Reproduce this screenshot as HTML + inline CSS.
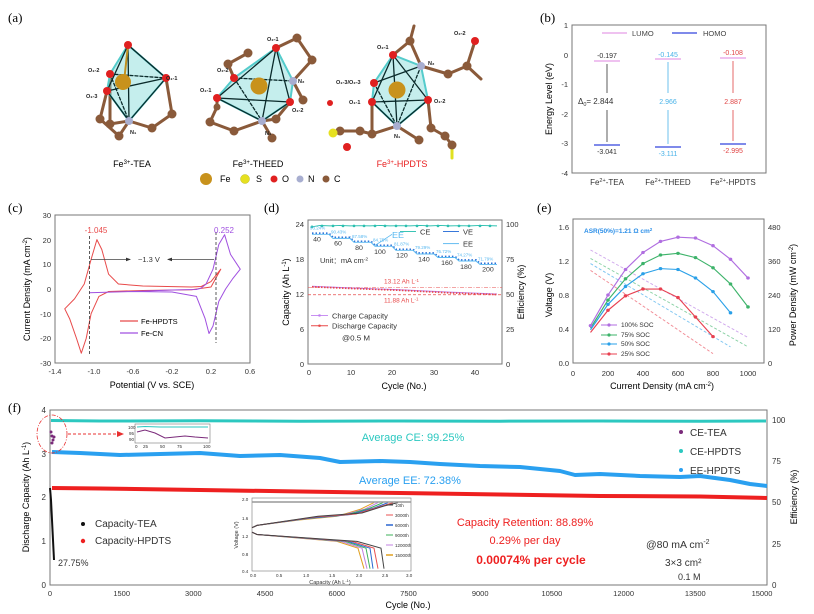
<!DOCTYPE html>
<html><head><meta charset="utf-8"><style>
html,body{margin:0;padding:0;background:#fff}
svg{display:block;font-family:"Liberation Sans",sans-serif}
</style></head><body>
<svg width="814" height="614" viewBox="0 0 814 614" xmlns="http://www.w3.org/2000/svg">
<!-- ===== (a) ===== -->
<text x="8" y="22" font-size="13" font-family="Liberation Serif">(a)</text>
<g stroke-linecap="round">
<g stroke="#8a5a3a" stroke-width="3">
<line x1="107" y1="91" x2="100" y2="119"/><line x1="100" y1="119" x2="119" y2="136"/><line x1="119" y1="136" x2="129" y2="121"/><line x1="129" y1="121" x2="152" y2="128"/><line x1="152" y1="128" x2="172" y2="114"/><line x1="172" y1="114" x2="166" y2="78"/><line x1="129" y1="121" x2="110" y2="124"/><line x1="110" y1="124" x2="110" y2="74"/>
</g>
<polygon points="128,45 110,74 107,91 129,121 166,78" fill="#7fd9d6" fill-opacity="0.45" stroke="#5cc" stroke-width="2"/>
<g stroke="#0a2a2a" stroke-width="1.3" fill="none">
<polyline points="128,45 107,91 129,121 166,78 128,45 129,121"/><line x1="107" y1="91" x2="166" y2="78"/><line x1="110" y1="74" x2="166" y2="78" stroke-dasharray="3,2"/><line x1="110" y1="74" x2="129" y2="121" stroke-dasharray="3,2"/>
</g>
<line x1="124" y1="82" x2="128" y2="45" stroke="#c09020" stroke-width="2"/>
<circle cx="123" cy="82" r="8" fill="#c8921c"/>
<g fill="#8a5a3a"><circle cx="100" cy="119" r="4.5"/><circle cx="119" cy="136" r="4.5"/><circle cx="152" cy="128" r="4.5"/><circle cx="172" cy="114" r="4.5"/><circle cx="110" cy="124" r="4.5"/></g>
<g fill="#e02020"><circle cx="128" cy="45" r="4"/><circle cx="110" cy="74" r="4"/><circle cx="107" cy="91" r="4"/><circle cx="166" cy="78" r="4"/></g>
<circle cx="129" cy="121" r="4" fill="#a8aed0"/>
<g stroke="#8a5a3a" stroke-width="3">
<line x1="276" y1="48" x2="297" y2="38"/><line x1="297" y1="38" x2="312" y2="60"/><line x1="312" y1="60" x2="293" y2="81"/><line x1="234" y1="78" x2="228" y2="64"/><line x1="228" y1="64" x2="248" y2="53"/><line x1="293" y1="81" x2="303" y2="100"/><line x1="217" y1="98" x2="217" y2="107"/><line x1="217" y1="107" x2="210" y2="122"/><line x1="210" y1="122" x2="234" y2="131"/><line x1="234" y1="131" x2="262" y2="121"/><line x1="262" y1="121" x2="272" y2="138"/><line x1="262" y1="121" x2="276" y2="119"/><line x1="276" y1="119" x2="290" y2="102"/>
</g>
<polygon points="276,48 234,78 217,98 262,121 290,102 293,81" fill="#7fd9d6" fill-opacity="0.45" stroke="#5cc" stroke-width="2"/>
<g stroke="#0a2a2a" stroke-width="1.3" fill="none">
<polyline points="276,48 217,98 262,121 290,102 276,48 262,121"/><line x1="217" y1="98" x2="290" y2="102"/><line x1="234" y1="78" x2="293" y2="81" stroke-dasharray="3,2"/><line x1="234" y1="78" x2="262" y2="121" stroke-dasharray="3,2"/>
</g>
<circle cx="259" cy="86" r="8.5" fill="#c8921c"/>
<g fill="#8a5a3a"><circle cx="248" cy="53" r="4.5"/><circle cx="228" cy="64" r="4.5"/><circle cx="297" cy="38" r="4.5"/><circle cx="312" cy="60" r="4.5"/><circle cx="303" cy="100" r="4.5"/><circle cx="210" cy="122" r="4.5"/><circle cx="234" cy="131" r="4.5"/><circle cx="272" cy="138" r="4.5"/><circle cx="276" cy="119" r="4.5"/><circle cx="217" cy="107" r="3.5"/></g>
<g fill="#e02020"><circle cx="276" cy="48" r="4"/><circle cx="234" cy="78" r="4"/><circle cx="217" cy="98" r="4"/><circle cx="290" cy="102" r="4"/></g>
<g fill="#a8aed0"><circle cx="262" cy="121" r="4"/><circle cx="293" cy="81" r="4"/></g>
<g stroke="#8a5a3a" stroke-width="3">
<line x1="393" y1="55" x2="410" y2="41"/><line x1="410" y1="41" x2="414" y2="26"/><line x1="421" y1="66" x2="448" y2="74"/><line x1="448" y1="74" x2="467" y2="66"/><line x1="467" y1="66" x2="481" y2="79"/><line x1="467" y1="66" x2="475" y2="41"/><line x1="372" y1="102" x2="372" y2="134"/><line x1="372" y1="134" x2="397" y2="126"/><line x1="372" y1="134" x2="360" y2="131"/><line x1="360" y1="131" x2="340" y2="131"/><line x1="397" y1="126" x2="419" y2="140"/><line x1="428" y1="100" x2="431" y2="128"/><line x1="431" y1="128" x2="445" y2="136"/><line x1="445" y1="136" x2="452" y2="145"/><line x1="421" y1="66" x2="410" y2="41"/>
</g>
<line x1="452" y1="145" x2="452" y2="158" stroke="#e0e020" stroke-width="3"/>
<polygon points="393,55 374,83 372,102 397,126 428,100 421,66" fill="#7fd9d6" fill-opacity="0.45" stroke="#5cc" stroke-width="2"/>
<g stroke="#0a2a2a" stroke-width="1.3" fill="none">
<polyline points="393,55 372,102 397,126 428,100 393,55 397,126"/><line x1="372" y1="102" x2="428" y2="100"/><line x1="374" y1="83" x2="421" y2="66"/><line x1="374" y1="83" x2="397" y2="126" stroke-dasharray="3,2"/><line x1="421" y1="66" x2="397" y2="126" stroke-dasharray="3,2"/>
</g>
<circle cx="397" cy="90" r="8.5" fill="#c8921c"/>
<g fill="#8a5a3a"><circle cx="410" cy="41" r="4.5"/><circle cx="448" cy="74" r="4.5"/><circle cx="467" cy="66" r="4.5"/><circle cx="372" cy="134" r="4.5"/><circle cx="360" cy="131" r="4.5"/><circle cx="340" cy="131" r="4.5"/><circle cx="419" cy="140" r="4.5"/><circle cx="431" cy="128" r="4.5"/><circle cx="445" cy="136" r="4.5"/><circle cx="452" cy="145" r="4.5"/></g>
<g fill="#e02020"><circle cx="393" cy="55" r="4"/><circle cx="374" cy="83" r="4"/><circle cx="372" cy="102" r="4"/><circle cx="428" cy="100" r="4"/><circle cx="475" cy="41" r="4"/><circle cx="347" cy="147" r="4"/><circle cx="330" cy="103" r="3"/></g>
<g fill="#a8aed0"><circle cx="397" cy="126" r="4"/><circle cx="421" cy="66" r="4"/></g>
<circle cx="333" cy="133" r="4.5" fill="#e6e020"/>
</g>
<g font-size="5.5" font-weight="bold" fill="#222">
<text x="88" y="72">O₁-2</text><text x="166" y="80">O₁-1</text><text x="86" y="98">O₁-3</text><text x="130" y="134">N₁</text>
<text x="267" y="41">O₂-1</text><text x="217" y="72">O₂-2</text><text x="200" y="92">O₁-1</text><text x="298" y="83">N₂</text><text x="292" y="112">O₁-2</text><text x="265" y="135">N₁</text>
<text x="377" y="49">O₂-1</text><text x="454" y="35">O₂-2</text><text x="428" y="65">N₂</text><text x="336" y="84">O₁-3/O₂-3</text><text x="349" y="104">O₁-1</text><text x="434" y="103">O₁-2</text><text x="394" y="138">N₁</text>
</g>
<g font-size="9">
<text x="132" y="167" text-anchor="middle">Fe<tspan font-size="6" dy="-3">3+</tspan><tspan dy="3">-TEA</tspan></text>
<text x="258" y="167" text-anchor="middle">Fe<tspan font-size="6" dy="-3">3+</tspan><tspan dy="3">-THEED</tspan></text>
<text x="402" y="167" text-anchor="middle" fill="#e82020">Fe<tspan font-size="6" dy="-3">3+</tspan><tspan dy="3">-HPDTS</tspan></text>
</g>
<g font-size="9">
<circle cx="206" cy="179" r="6" fill="#c8921c"/><text x="220" y="182">Fe</text>
<circle cx="245" cy="179" r="4.5" fill="#e6e020" stroke="#bb2" stroke-width="0.5"/><text x="256" y="182">S</text>
<circle cx="274" cy="179" r="3.5" fill="#e02020"/><text x="282" y="182">O</text>
<circle cx="300" cy="179" r="3.5" fill="#a8aed0"/><text x="308" y="182">N</text>
<circle cx="326" cy="179" r="3.5" fill="#8a5a3a"/><text x="334" y="182">C</text>
</g>

<!-- ===== (b) ===== -->
<text x="540" y="22" font-size="13" font-family="Liberation Serif">(b)</text>
<rect x="572" y="25" width="194" height="148" fill="none" stroke="#777" stroke-width="1"/>
<g font-size="7.5" text-anchor="end" fill="#333">
<text x="568" y="28">1</text><text x="568" y="58">0</text><text x="568" y="87">-1</text><text x="568" y="117">-2</text><text x="568" y="146">-3</text><text x="568" y="176">-4</text>
</g>
<text transform="translate(552,99) rotate(-90)" font-size="9" text-anchor="middle">Energy Level (eV)</text>
<line x1="602" y1="33" x2="627" y2="33" stroke="#e59ee8" stroke-width="1.2"/><text x="632" y="36" font-size="7.5" fill="#444">LUMO</text>
<line x1="672" y1="33" x2="697" y2="33" stroke="#3344dd" stroke-width="1.2"/><text x="703" y="36" font-size="7.5" fill="#444">HOMO</text>
<g stroke-width="1.2">
<line x1="594" y1="61" x2="620" y2="61" stroke="#e59ee8"/><line x1="594" y1="145" x2="620" y2="145" stroke="#3344dd"/>
<line x1="607" y1="64" x2="607" y2="93" stroke="#333" stroke-width="0.8"/><line x1="607" y1="110" x2="607" y2="142" stroke="#333" stroke-width="0.8"/>
<line x1="655" y1="59" x2="681" y2="59" stroke="#e59ee8"/><line x1="655" y1="147" x2="681" y2="147" stroke="#3344dd"/>
<line x1="668" y1="62" x2="668" y2="93" stroke="#4ab3e8" stroke-width="0.8"/><line x1="668" y1="110" x2="668" y2="144" stroke="#4ab3e8" stroke-width="0.8"/>
<line x1="720" y1="58" x2="746" y2="58" stroke="#e59ee8"/><line x1="720" y1="144" x2="746" y2="144" stroke="#3344dd"/>
<line x1="733" y1="61" x2="733" y2="93" stroke="#e04545" stroke-width="0.8"/><line x1="733" y1="110" x2="733" y2="141" stroke="#e04545" stroke-width="0.8"/>
</g>
<g font-size="7" text-anchor="middle">
<text x="607" y="58" fill="#333">-0.197</text><text x="607" y="154" fill="#333">-3.041</text>
<text x="668" y="57" fill="#4ab3e8">-0.145</text><text x="668" y="156" fill="#4ab3e8">-3.111</text>
<text x="733" y="55" fill="#e04545">-0.108</text><text x="733" y="153" fill="#e04545">-2.995</text>
<text x="668" y="104" fill="#4ab3e8">2.966</text><text x="733" y="104" fill="#e04545">2.887</text>
</g>
<text x="578" y="104" font-size="8" fill="#333">Δ<tspan font-size="5.5" dy="2">0</tspan><tspan dy="-2">= 2.844</tspan></text>
<g font-size="8" text-anchor="middle" fill="#333">
<text x="607" y="185">Fe<tspan font-size="5.5" dy="-3">2+</tspan><tspan dy="3">-TEA</tspan></text>
<text x="668" y="185">Fe<tspan font-size="5.5" dy="-3">2+</tspan><tspan dy="3">-THEED</tspan></text>
<text x="733" y="185">Fe<tspan font-size="5.5" dy="-3">2+</tspan><tspan dy="3">-HPDTS</tspan></text>
</g>

<!-- ===== (c) ===== -->
<text x="8" y="212" font-size="13" font-family="Liberation Serif">(c)</text>
<rect x="55" y="215" width="195" height="148" fill="none" stroke="#777"/>
<g font-size="7.5" text-anchor="end" fill="#333">
<text x="51" y="218">30</text><text x="51" y="243">20</text><text x="51" y="267">10</text><text x="51" y="292">0</text><text x="51" y="317">-10</text><text x="51" y="341">-20</text><text x="51" y="366">-30</text>
</g>
<g font-size="7.5" text-anchor="middle" fill="#333">
<text x="55" y="374">-1.4</text><text x="94" y="374">-1.0</text><text x="133" y="374">-0.6</text><text x="172" y="374">-0.2</text><text x="211" y="374">0.2</text><text x="250" y="374">0.6</text>
</g>
<text x="152" y="388" font-size="9" text-anchor="middle">Potential (V vs. SCE)</text>
<text transform="translate(30,289) rotate(-90)" font-size="9" text-anchor="middle">Current  Density (mA cm<tspan font-size="6" dy="-3">-2</tspan><tspan dy="3">)</tspan></text>
<path d="M64.75,308.8 L74.5,298.9 L84.25,284 L91.1,259.4 L96.9,239.6 L101.8,249.5 L108.6,274.2 L118.4,284 L142.8,286 L191.5,287 L201.25,286.5 L211,281.6 L220.75,269.2 L211,287 L191.5,289.7 L142.8,290.5 L108.6,291.5 L98.9,296.4 L91.1,313.7 L86.2,338.4 L81.3,353.2 L76.5,338.4 L69.6,318.6 Z" fill="none" stroke="#e84a4a" stroke-width="1" stroke-linejoin="round"/>
<path d="M89.1,292.7 L133,291.5 L172,290 L196.4,289.5 L201.25,288 L206.1,284 L213,269.2 L218.8,244.5 L224.6,234.7 L230.5,254.4 L240.25,269.2 L232.4,279.1 L225.6,289 L218.8,301.4 L213,326 L209,333.5 L205.1,318.6 L196.4,296.4 L172,292 L133,291.5 L89.1,292.7" fill="none" stroke="#a050e0" stroke-width="1" stroke-linejoin="round"/>
<line x1="89.6" y1="236" x2="89.6" y2="355" stroke="#333" stroke-width="0.8" stroke-dasharray="3,2"/>
<line x1="216" y1="232" x2="216" y2="343" stroke="#333" stroke-width="0.8" stroke-dasharray="3,2"/>
<text x="96" y="233" font-size="8" fill="#e84a4a" text-anchor="middle">-1.045</text>
<text x="224" y="233" font-size="8" fill="#a050e0" text-anchor="middle">0.252</text>
<g stroke="#444" stroke-width="0.7"><line x1="91" y1="259.4" x2="130" y2="259.4"/><line x1="168" y1="259.4" x2="214" y2="259.4"/></g>
<polygon points="131,259.4 126,257.6 126,261.2" fill="#333"/><polygon points="167,259.4 172,257.6 172,261.2" fill="#333"/>
<text x="149" y="262" font-size="7.5" text-anchor="middle" fill="#333">~1.3 V</text>
<line x1="120" y1="321" x2="138" y2="321" stroke="#e84a4a" stroke-width="1.2"/><text x="141" y="324" font-size="7.5">Fe-HPDTS</text>
<line x1="120" y1="333" x2="138" y2="333" stroke="#a050e0" stroke-width="1.2"/><text x="141" y="336" font-size="7.5">Fe-CN</text>

<!-- ===== (d) ===== -->
<text x="264" y="212" font-size="13" font-family="Liberation Serif">(d)</text>
<rect x="308" y="220" width="194" height="144" fill="none" stroke="#777"/>
<g font-size="7.5" text-anchor="end" fill="#333">
<text x="304" y="227">24</text><text x="304" y="262">18</text><text x="304" y="297">12</text><text x="304" y="332">6</text><text x="304" y="367">0</text>
</g>
<g font-size="7.5" fill="#333">
<text x="506" y="227">100</text><text x="506" y="262">75</text><text x="506" y="297">50</text><text x="506" y="332">25</text><text x="506" y="367">0</text>
</g>
<g font-size="7.5" text-anchor="middle" fill="#333">
<text x="309" y="375">0</text><text x="351" y="375">10</text><text x="392" y="375">20</text><text x="434" y="375">30</text><text x="475" y="375">40</text>
</g>
<text x="404" y="389" font-size="9" text-anchor="middle">Cycle (No.)</text>
<text transform="translate(289,292) rotate(-90)" font-size="9" text-anchor="middle">Capacity (Ah L<tspan font-size="6" dy="-3">-1</tspan><tspan dy="3">)</tspan></text>
<text transform="translate(524,292) rotate(-90)" font-size="9" text-anchor="middle">Efficiency (%)</text>
<g transform="translate(0,14.1) scale(1,0.933)">
<polyline points="312,228 320,226.5 330,227 340,226.5 350,227 360,226.8 370,227 380,226.5 390,227 400,226.8 410,227 420,226.5 430,227 440,226.5 450,227 460,226.8 470,227 480,226.5 497,227" fill="none" stroke="#2cc0b0" stroke-width="1"/>
<g fill="#2cc0b0"><circle cx="312" cy="228" r="1.4"/><circle cx="322" cy="227" r="1.4"/><circle cx="333" cy="227" r="1.4"/><circle cx="343" cy="227" r="1.4"/><circle cx="354" cy="227" r="1.4"/><circle cx="364" cy="227" r="1.4"/><circle cx="375" cy="227" r="1.4"/><circle cx="385" cy="227" r="1.4"/><circle cx="396" cy="227" r="1.4"/><circle cx="406" cy="227" r="1.4"/><circle cx="417" cy="227" r="1.4"/><circle cx="427" cy="227" r="1.4"/><circle cx="438" cy="227" r="1.4"/><circle cx="448" cy="227" r="1.4"/><circle cx="459" cy="227" r="1.4"/><circle cx="469" cy="227" r="1.4"/><circle cx="480" cy="227" r="1.4"/><circle cx="490" cy="227" r="1.4"/></g>
<polyline points="312,235 329,235 333,239.4 350,239.4 354,243.6 371,243.6 375,247.9 392,247.9 396,252.2 413,252.2 417,256.1 434,256.1 438,259.9 455,259.9 459,263.6 476,263.6 480,267.3 497,267.3" fill="none" stroke="#2a6fd8" stroke-width="2" stroke-dasharray="1.5,2"/>
<polyline points="312,236 329,236 333,240.4 350,240.4 354,244.6 371,244.6 375,248.9 392,248.9 396,253.2 413,253.2 417,257.1 434,257.1 438,260.9 455,260.9 459,264.6 476,264.6 480,268.3 497,268.3" fill="none" stroke="#58b8f0" stroke-width="1"/>
<line x1="375" y1="248" x2="392" y2="236" stroke="#58b8f0" stroke-width="0.8"/>
<text x="392" y="240" font-size="9" fill="#58b8f0">EE</text>
<g font-size="4.5" fill="#58b8f0"><text x="310" y="231">93.24%</text><text x="331" y="235">90.43%</text><text x="352" y="240">87.58%</text><text x="373" y="244">84.75%</text><text x="394" y="248">81.87%</text><text x="415" y="252">79.29%</text><text x="436" y="256">76.72%</text><text x="457" y="260">74.27%</text><text x="478" y="264">71.79%</text></g>
<g font-size="7" fill="#333" text-anchor="middle"><text x="317" y="244">40</text><text x="338" y="248">60</text><text x="359" y="253">80</text><text x="380" y="257">100</text><text x="402" y="261">120</text><text x="424" y="265">140</text><text x="447" y="269">160</text><text x="466" y="273">180</text><text x="488" y="276">200</text></g>
<g font-size="7.5" fill="#333"><text x="420" y="236">CE</text><text x="463" y="236">VE</text><text x="463" y="249">EE</text></g>
<line x1="400" y1="233" x2="416" y2="233" stroke="#2cc0b0"/><line x1="443" y1="233" x2="459" y2="233" stroke="#2a6fd8"/><line x1="443" y1="246" x2="459" y2="246" stroke="#58b8f0"/>
<text x="320" y="267" font-size="7.5" fill="#333">Unit：mA cm<tspan font-size="5" dy="-3">-2</tspan></text>
<line x1="308" y1="293" x2="502" y2="293" stroke="#e84a4a" stroke-width="0.6" stroke-dasharray="4,1.5,1,1.5"/>
<line x1="308" y1="300.75" x2="502" y2="300.75" stroke="#e84a4a" stroke-width="0.8" stroke-dasharray="3,2"/>
<text x="384" y="289" font-size="6.5" fill="#e84a4a">13.12 Ah L<tspan font-size="4.5" dy="-2">-1</tspan></text>
<text x="384" y="309" font-size="6.5" fill="#e84a4a">11.88 Ah L<tspan font-size="4.5" dy="-2">-1</tspan></text>
<polyline points="312,291.8 350,293.5 400,295.5 450,298 497,300" fill="none" stroke="#c080f0" stroke-width="1.2"/>
<polyline points="312,292.3 350,294 400,296 450,298.8 497,300.6" fill="none" stroke="#e84a4a" stroke-width="1.8" stroke-dasharray="1.5,1.5"/>
<line x1="311" y1="323" x2="328" y2="323" stroke="#c080f0"/><circle cx="319.5" cy="323" r="1.3" fill="#c080f0"/><text x="332" y="326" font-size="7.5" fill="#333">Charge Capacity</text>
<line x1="311" y1="334" x2="328" y2="334" stroke="#e84a4a"/><circle cx="319.5" cy="334" r="1.3" fill="#e84a4a"/><text x="332" y="337" font-size="7.5" fill="#333">Discharge Capacity</text>
<text x="342" y="350" font-size="8" fill="#333">@0.5 M</text>
</g>

<!-- ===== (e) ===== -->
<text x="537" y="212" font-size="13" font-family="Liberation Serif">(e)</text>
<rect x="573" y="219" width="191" height="144" fill="none" stroke="#777"/>
<g font-size="7.5" text-anchor="end" fill="#333">
<text x="569" y="230">1.6</text><text x="569" y="264">1.2</text><text x="569" y="298">0.8</text><text x="569" y="332">0.4</text><text x="569" y="366">0.0</text>
</g>
<g font-size="7.5" fill="#333">
<text x="768" y="230">480</text><text x="768" y="264">360</text><text x="768" y="298">240</text><text x="768" y="332">120</text><text x="768" y="366">0</text>
</g>
<g font-size="7.5" text-anchor="middle" fill="#333">
<text x="573" y="376">0</text><text x="608" y="376">200</text><text x="643" y="376">400</text><text x="678" y="376">600</text><text x="713" y="376">800</text><text x="748" y="376">1000</text>
</g>
<text x="662" y="389" font-size="9" text-anchor="middle">Current Density (mA cm<tspan font-size="6" dy="-3">-2</tspan><tspan dy="3">)</tspan></text>
<text transform="translate(552,295) rotate(-90)" font-size="9" text-anchor="middle">Voltage (V)</text>
<text transform="translate(796,295) rotate(-90)" font-size="9" text-anchor="middle">Power Density (mW cm<tspan font-size="6" dy="-3">-2</tspan><tspan dy="3">)</tspan></text>
<g transform="translate(0,19.3) scale(1,0.919)">
<g fill="none" stroke-width="1" stroke-dasharray="3,2" opacity="0.6">
<line x1="590.5" y1="251" x2="748" y2="346.25" stroke="#b06ee0"/>
<line x1="590.5" y1="260.2" x2="748" y2="356.4" stroke="#3db36a"/>
<line x1="590.5" y1="265.8" x2="730.5" y2="356.4" stroke="#2aa0e8"/>
<line x1="590.5" y1="273.2" x2="713" y2="363.8" stroke="#e84050"/>
</g>
<g fill="none" stroke-width="1.2">
<polyline stroke="#b06ee0" points="590.5,333.3 608,300 625.5,272.25 643,253.75 660.5,241.7 678,237.1 695.5,238 713,246.35 730.5,261.15 748,281.5"/>
<polyline stroke="#3db36a" points="590.5,336.1 608,305.55 625.5,282.4 643,265.8 660.5,256.5 678,254.7 695.5,259.3 713,270.4 730.5,288 748,313"/>
<polyline stroke="#2aa0e8" points="590.5,337.9 608,310.2 625.5,290.75 643,276.9 660.5,271.3 678,272.25 695.5,281.5 713,296.3 730.5,319.4"/>
<polyline stroke="#e84050" points="590.5,340.7 608,316.65 625.5,300.9 643,293.5 660.5,293.5 678,302.8 695.5,324 713,345.3"/>
</g>
<g fill="#b06ee0"><circle cx="590.5" cy="333.3" r="1.8"/><circle cx="608" cy="300" r="1.8"/><circle cx="625.5" cy="272.25" r="1.8"/><circle cx="643" cy="253.75" r="1.8"/><circle cx="660.5" cy="241.7" r="1.8"/><circle cx="678" cy="237.1" r="1.8"/><circle cx="695.5" cy="238" r="1.8"/><circle cx="713" cy="246.35" r="1.8"/><circle cx="730.5" cy="261.15" r="1.8"/><circle cx="748" cy="281.5" r="1.8"/></g>
<g fill="#3db36a"><circle cx="608" cy="305.55" r="1.8"/><circle cx="625.5" cy="282.4" r="1.8"/><circle cx="643" cy="265.8" r="1.8"/><circle cx="660.5" cy="256.5" r="1.8"/><circle cx="678" cy="254.7" r="1.8"/><circle cx="695.5" cy="259.3" r="1.8"/><circle cx="713" cy="270.4" r="1.8"/><circle cx="730.5" cy="288" r="1.8"/><circle cx="748" cy="313" r="1.8"/></g>
<g fill="#2aa0e8"><circle cx="608" cy="310.2" r="1.8"/><circle cx="625.5" cy="290.75" r="1.8"/><circle cx="643" cy="276.9" r="1.8"/><circle cx="660.5" cy="271.3" r="1.8"/><circle cx="678" cy="272.25" r="1.8"/><circle cx="695.5" cy="281.5" r="1.8"/><circle cx="713" cy="296.3" r="1.8"/><circle cx="730.5" cy="319.4" r="1.8"/></g>
<g fill="#e84050"><circle cx="608" cy="316.65" r="1.8"/><circle cx="625.5" cy="300.9" r="1.8"/><circle cx="643" cy="293.5" r="1.8"/><circle cx="660.5" cy="293.5" r="1.8"/><circle cx="678" cy="302.8" r="1.8"/><circle cx="695.5" cy="324" r="1.8"/><circle cx="713" cy="345.3" r="1.8"/></g>
</g>
<text x="584" y="233" font-size="6.5" fill="#2a8ee8" font-weight="bold">ASR(50%)=1.21 Ω cm<tspan font-size="4.5" dy="-2">2</tspan></text>
<g font-size="6.5" fill="#333">
<line x1="601" y1="325" x2="617" y2="325" stroke="#b06ee0"/><circle cx="609" cy="325" r="1.6" fill="#b06ee0"/><text x="621" y="327">100% SOC</text>
<line x1="601" y1="335" x2="617" y2="335" stroke="#3db36a"/><circle cx="609" cy="335" r="1.6" fill="#3db36a"/><text x="621" y="337">75% SOC</text>
<line x1="601" y1="344" x2="617" y2="344" stroke="#2aa0e8"/><circle cx="609" cy="344" r="1.6" fill="#2aa0e8"/><text x="621" y="346">50% SOC</text>
<line x1="601" y1="354" x2="617" y2="354" stroke="#e84050"/><circle cx="609" cy="354" r="1.6" fill="#e84050"/><text x="621" y="356">25% SOC</text>
</g>

<!-- ===== (f) ===== -->
<text x="8" y="412" font-size="13" font-family="Liberation Serif">(f)</text>
<rect x="50" y="410" width="717" height="175" fill="none" stroke="#777"/>
<g font-size="8" text-anchor="end" fill="#333">
<text x="46" y="413">4</text><text x="46" y="457">3</text><text x="46" y="500">2</text><text x="46" y="544">1</text><text x="46" y="588">0</text>
</g>
<g font-size="8" fill="#333">
<text x="772" y="423">100</text><text x="772" y="464">75</text><text x="772" y="505">50</text><text x="772" y="547">25</text><text x="772" y="588">0</text>
</g>
<g font-size="7.5" text-anchor="middle" fill="#333">
<text x="50" y="596">0</text><text x="121.7" y="596">1500</text><text x="193.4" y="596">3000</text><text x="265.1" y="596">4500</text><text x="336.8" y="596">6000</text><text x="408.5" y="596">7500</text><text x="480.2" y="596">9000</text><text x="551.9" y="596">10500</text><text x="623.6" y="596">12000</text><text x="695.3" y="596">13500</text><text x="762" y="596">15000</text>
</g>
<text x="408" y="608" font-size="9" text-anchor="middle">Cycle (No.)</text>
<text transform="translate(29,497) rotate(-90)" font-size="9" text-anchor="middle">Discharge Capacity (Ah L<tspan font-size="6" dy="-3">-1</tspan><tspan dy="3">)</tspan></text>
<text transform="translate(797,497) rotate(-90)" font-size="9" text-anchor="middle">Efficiency (%)</text>
<polyline points="51,420.5 100,421 200,420.8 300,421.2 400,421 500,421.2 600,421 700,421.2 766,421" fill="none" stroke="#2cc8c0" stroke-width="3"/>
<polyline points="52,452 80,453 120,455 160,454 200,453 240,456 280,455 320,458 340,462 380,461 410,462 440,464 480,466 520,467 560,471 575,475 600,474 640,476 680,477 700,476 730,480 750,484 767,486" fill="none" stroke="#2aa0f0" stroke-width="4" stroke-linejoin="round"/>
<polyline points="52,488 100,488.5 200,490 300,491.5 400,493 500,494.5 600,496 700,496.5 767,498" fill="none" stroke="#ee2020" stroke-width="4"/>
<polyline points="50,488 51,500 52,520 53,540 54,560" fill="none" stroke="#111" stroke-width="2"/>
<g fill="#7a2a7a"><circle cx="51" cy="432" r="1.5"/><circle cx="52" cy="436" r="1.5"/><circle cx="53" cy="440" r="1.5"/><circle cx="54" cy="437" r="1.5"/><circle cx="52" cy="443" r="1.5"/></g>
<ellipse cx="52" cy="434" rx="15" ry="19" fill="none" stroke="#e83030" stroke-width="0.8" stroke-dasharray="4,1.5,1,1.5"/>
<line x1="68" y1="434" x2="118" y2="434" stroke="#e83030" stroke-width="1" stroke-dasharray="3,2"/>
<polygon points="124,434 117,431 117,437" fill="#e83030"/>
<rect x="135" y="424" width="75" height="19" fill="#fff" stroke="#777" stroke-width="0.6"/>
<polyline points="137,427 145,426.5 160,427 180,427 208,427" fill="none" stroke="#2cc8c0" stroke-width="1"/>
<polyline points="137,432 145,430 155,433 165,438 175,437 185,436 195,437 208,438" fill="none" stroke="#7a2a7a" stroke-width="1"/>
<g font-size="4.5" fill="#333"><text x="128" y="429">100</text><text x="129" y="435">95</text><text x="129" y="441">90</text>
<text x="135" y="448">0</text><text x="143" y="448">25</text><text x="160" y="448">50</text><text x="177" y="448">75</text><text x="203" y="448">100</text></g>
<text x="413" y="441" font-size="11" fill="#2cc8c0" text-anchor="middle">Average CE:  99.25%</text>
<text x="410" y="484" font-size="11" fill="#2aa0f0" text-anchor="middle">Average EE: 72.38%</text>
<g font-size="10" fill="#333">
<circle cx="681" cy="432" r="2" fill="#7a2a7a"/><text x="690" y="436">CE-TEA</text>
<circle cx="681" cy="451" r="2" fill="#2cc8c0"/><text x="690" y="455">CE-HPDTS</text>
<circle cx="681" cy="470" r="2" fill="#2aa0f0"/><text x="690" y="474">EE-HPDTS</text>
<circle cx="83" cy="524" r="2" fill="#111"/><text x="95" y="527">Capacity-TEA</text>
<circle cx="83" cy="541" r="2.2" fill="#ee2020"/><text x="95" y="544">Capacity-HPDTS</text>
</g>
<text x="58" y="566" font-size="9" fill="#333">27.75%</text>
<rect x="252" y="498" width="159" height="73" fill="#fff" stroke="#777" stroke-width="0.6"/>
<g fill="none" stroke-width="1">
<path d="M252,527.7 L257,525.4 L299,520 L337,516.3 L360,509.4 L374,502.6" stroke="#e0a020"/>
<path d="M252,527.7 L257,525.4 L303,519 L341,515.5 L365,509 L378,502.6" stroke="#c080e0"/>
<path d="M252,527.7 L257,525.4 L307,518.5 L346,515 L369,508.5 L383,502.6" stroke="#3cb05a"/>
<path d="M252,527.7 L257,525.4 L311,518 L351,514.5 L374,508 L388,502.6" stroke="#2a66d0"/>
<path d="M252,527.7 L257,525.4 L315,517 L356,514 L379,507 L393,502.6" stroke="#e85050"/>
<path d="M252,527.7 L257,525.4 L318,516.3 L362,513 L384,506 L398,502.6" stroke="#444"/>
<path d="M252,532.2 L257,534.5 L337,541.4 L358,548.2 L364,568.7" stroke="#e0a020"/>
<path d="M252,532.2 L257,534.5 L341,541.4 L362,548.2 L367,568.7" stroke="#c080e0"/>
<path d="M252,532.2 L257,534.5 L345,541.4 L366,548.2 L370,568.7" stroke="#3cb05a"/>
<path d="M252,532.2 L257,534.5 L348,541.4 L370,548.2 L373,568.7" stroke="#2a66d0"/>
<path d="M252,532.2 L257,534.5 L352,541.4 L374,548.2 L378,568.7" stroke="#e85050"/>
<path d="M252,532.2 L257,534.5 L357,541.4 L381,548.2 L384,568.7" stroke="#444"/>
</g>
<line x1="252" y1="502" x2="411" y2="502" stroke="#999" stroke-width="1.5"/>
<g font-size="4.5" fill="#333">
<line x1="386" y1="505" x2="393" y2="505" stroke="#444"/><text x="395" y="507">10th</text>
<line x1="386" y1="515" x2="393" y2="515" stroke="#e85050"/><text x="395" y="517">3000th</text>
<line x1="386" y1="525" x2="393" y2="525" stroke="#2a66d0" stroke-width="1.5"/><text x="395" y="527">6000th</text>
<line x1="386" y1="535" x2="393" y2="535" stroke="#3cb05a"/><text x="395" y="537">9000th</text>
<line x1="386" y1="545" x2="393" y2="545" stroke="#c080e0"/><text x="395" y="547">12000th</text>
<line x1="386" y1="555" x2="393" y2="555" stroke="#e0a020" stroke-width="1.5"/><text x="395" y="557">15000th</text>
<text x="242" y="501">2.0</text><text x="242" y="520">1.6</text><text x="242" y="538">1.2</text><text x="242" y="556">0.8</text><text x="242" y="573">0.4</text>
<text x="250" y="577">0.0</text><text x="276" y="577">0.5</text><text x="303" y="577">1.0</text><text x="329" y="577">1.5</text><text x="356" y="577">2.0</text><text x="382" y="577">2.5</text><text x="406" y="577">3.0</text>
</g>
<text x="330" y="584" font-size="5.5" text-anchor="middle" fill="#333">Capacity (Ah L<tspan font-size="4" dy="-2">-1</tspan><tspan dy="2">)</tspan></text>
<text transform="translate(238,535) rotate(-90)" font-size="5.5" text-anchor="middle" fill="#333">Voltage (V)</text>
<g text-anchor="middle" fill="#ee2020">
<text x="525" y="526" font-size="11">Capacity Retention: 88.89%</text>
<text x="525" y="544" font-size="11">0.29% per day</text>
<text x="531" y="564" font-size="12" font-weight="bold">0.00074% per cycle</text>
</g>
<text x="646" y="548" font-size="10.5" fill="#333">@80 mA cm<tspan font-size="7" dy="-4">-2</tspan></text>
<text x="665" y="566" font-size="10" fill="#333">3×3 cm²</text>
<text x="678" y="580" font-size="9" fill="#333">0.1 M</text>
</svg>
</body></html>
